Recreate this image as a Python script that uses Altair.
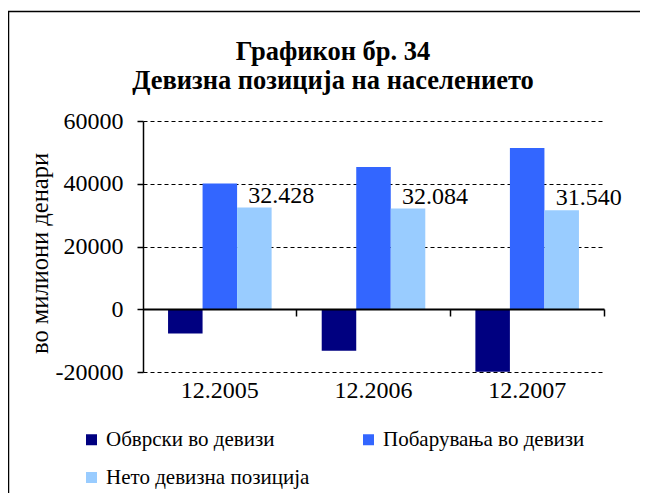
import altair as alt
import pandas as pd

dates = ["12.2005", "12.2006", "12.2007"]
series = ["Обврски во девизи", "Побарувања во девизи", "Нето девизна позиција"]
liabilities = [-7700, -13200, -19900]
claims = [40100, 45300, 51400]
net = [32428, 32084, 31540]
net_labels = ["32.428", "32.084", "31.540"]
colors = ["#000080", "#3366FF", "#99CCFF"]
y_ticks = [-20000, 0, 20000, 40000, 60000]
title_lines = ["Графикон бр. 34", "Девизна позиција на населението"]
y_title = "во милиони  денари"

rows = []
for i, d in enumerate(dates):
    rows.append({"date": d, "series": series[0], "value": liabilities[i]})
    rows.append({"date": d, "series": series[1], "value": claims[i]})
    rows.append({"date": d, "series": series[2], "value": net[i]})
df = pd.DataFrame(rows)
net_df = pd.DataFrame({"date": dates, "series": [series[2]] * 3, "value": net, "label": net_labels})

FONT = "Liberation Serif, Times New Roman, serif"

# legend is laid out column by column: order so that rows read Обврски | Побарувања, then Нето
legend_order = [series[0], series[2], series[1]]
legend_colors = [colors[0], colors[2], colors[1]]

xscale = alt.Scale(domain=dates, paddingInner=0.326, paddingOuter=0.163)
offscale = alt.Scale(domain=series, paddingInner=0, paddingOuter=0)
yscale = alt.Scale(domain=[-20000, 60000], nice=False, zero=False)

label_axis = alt.Axis(orient="bottom", title=None, domain=False, ticks=False, grid=False,
                      labelFont=FONT, labelFontSize=24, labelColor="black", labelPadding=6,
                      labelAngle=0)
zero_axis = alt.Axis(orient="bottom", title=None, labels=False, grid=False, domain=True,
                     domainColor="black", domainWidth=2, ticks=True, tickColor="black",
                     tickWidth=1.5, tickSize=7, bandPosition=1.242, offset=-63, zindex=1)
y_axis = alt.Axis(values=y_ticks, labelExpr="'' + datum.value", title=y_title,
                  titleFont=FONT, titleFontSize=24.5, titleFontWeight="normal", titleColor="black",
                  titleX=-103, titleY=132, titleAngle=-90, titleAlign="center", titleBaseline="middle",
                  labelFont=FONT, labelFontSize=24, labelColor="black", labelPadding=14,
                  domainColor="black", domainWidth=1.5, tickColor="black", tickSize=6, tickWidth=1.5,
                  grid=True, gridColor="black", gridDash=[4, 3], gridWidth=1, gridOpacity=1)

bars = alt.Chart(df).mark_bar().encode(
    x=alt.X("date:N", scale=xscale, axis=label_axis, sort=dates),
    xOffset=alt.XOffset("series:N", scale=offscale, sort=series),
    y=alt.Y("value:Q", scale=yscale, axis=y_axis),
    color=alt.Color("series:N", scale=alt.Scale(domain=legend_order, range=legend_colors),
                    legend=alt.Legend(title=None, orient="none", legendX=-62, legendY=308,
                                      columns=2, symbolType="square", symbolSize=121,
                                      symbolStrokeWidth=0, labelFont=FONT, labelFontSize=21,
                                      labelColor="black", labelOffset=4, rowPadding=16,
                                      columnPadding=48, labelLimit=400, padding=0)),
)

labels = alt.Chart(net_df).mark_text(align="left", baseline="alphabetic", dx=-6, dy=-5,
                                      font=FONT, fontSize=24, color="black").encode(
    x=alt.X("date:N", scale=xscale, axis=zero_axis, sort=dates),
    xOffset=alt.XOffset("series:N", scale=offscale, sort=series),
    y=alt.Y("value:Q", scale=yscale),
    text="label:N",
)

title = alt.Chart(pd.DataFrame({"t": ["\n".join(title_lines)]})).mark_text(
    align="center", baseline="alphabetic", lineBreak="\n", lineHeight=29,
    font=FONT, fontSize=26.5, fontWeight="bold", color="black",
).encode(x=alt.value(190), y=alt.value(-61.5), text="t:N")

one = pd.DataFrame({"a": [0]})
frame_top = alt.Chart(one).mark_rule(color="black", strokeWidth=1.5).encode(
    x=alt.value(-135), x2=alt.value(497), y=alt.value(-109.5))
frame_left = alt.Chart(one).mark_rule(color="black", strokeWidth=1.5).encode(
    x=alt.value(-134.5), y=alt.value(-110), y2=alt.value(400))

chart = alt.layer(frame_top, frame_left, title, bars, labels).resolve_axis(x="independent").properties(
    width=461, height=251,
    padding={"left": 135, "top": 113, "right": 36, "bottom": 121},
    autosize=alt.AutoSizeParams(type="none"),
).configure_view(stroke=None)

chart.save("out.html", embed_options={"renderer": "svg", "actions": False})
